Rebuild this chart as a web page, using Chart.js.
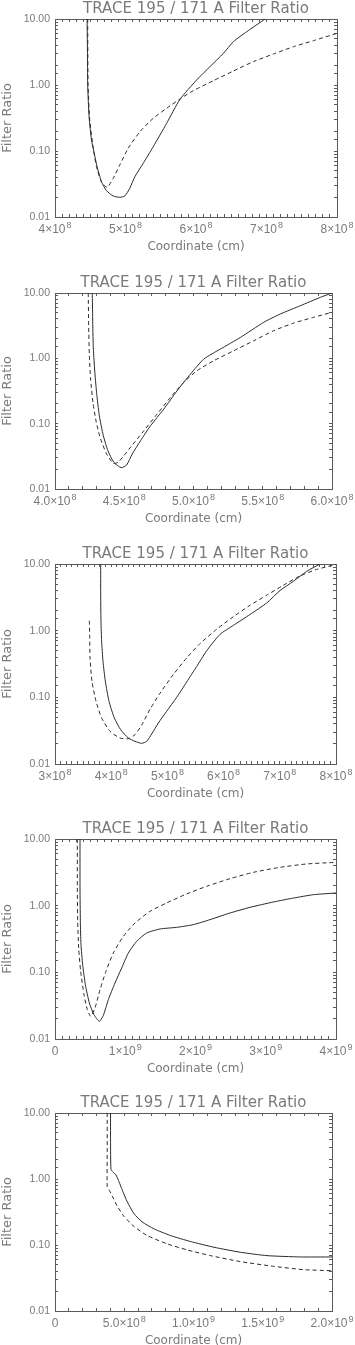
<!DOCTYPE html>
<html>
<head>
<meta charset="utf-8">
<script src="https://cdn.jsdelivr.net/npm/chart.js@4.4.1/dist/chart.umd.min.js"></script>
<style>
  body { margin: 0; background: #fff; width: 355px; height: 1345px; position: relative; overflow: hidden; }
  canvas { position: absolute; left: 0; }
</style>
</head>
<body>
<canvas id="c1"></canvas>
<canvas id="c2"></canvas>
<canvas id="c3"></canvas>
<canvas id="c4"></canvas>
<canvas id="c5"></canvas>
<script>
// coordinates in cm, ratio 195/171 ; solid and dashed model curves per panel
const p1SolidX = [4.455e8, 4.46e8, 4.464e8, 4.483e8, 4.517e8, 4.55e8, 4.597e8, 4.659e8, 4.73e8, 4.825e8, 4.919e8, 4.99e8, 5.06e8, 5.133e8, 5.251e8, 5.393e8, 5.583e8, 5.773e8, 6.009e8, 6.199e8, 6.389e8, 6.531e8, 6.72e8, 6.981e8];
const p1SolidY = [10, 3.39, 1.0, 0.331, 0.147, 0.1, 0.058, 0.0343, 0.0251, 0.0208, 0.0199, 0.0208, 0.0272, 0.0408, 0.065, 0.116, 0.262, 0.607, 1.19, 1.9, 3.02, 4.54, 6.43, 10];
const p1DashX = [4.464e8, 4.469e8, 4.493e8, 4.54e8, 4.588e8, 4.659e8, 4.739e8, 4.825e8, 4.919e8, 5.038e8, 5.204e8, 5.393e8, 5.583e8, 5.773e8, 5.962e8, 6.246e8, 6.531e8, 6.815e8, 7.1e8, 7.384e8, 7.668e8, 8.0e8];
const p1DashY = [10, 1.0, 0.295, 0.116, 0.058, 0.034, 0.0281, 0.0385, 0.0614, 0.11, 0.196, 0.313, 0.443, 0.614, 0.82, 1.16, 1.63, 2.26, 2.95, 3.81, 4.7, 6.07];

const p2SolidX = [4.269e8, 4.272e8, 4.276e8, 4.286e8, 4.3e8, 4.32e8, 4.349e8, 4.382e8, 4.425e8, 4.478e8, 4.517e8, 4.558e8, 4.618e8, 4.69e8, 4.786e8, 4.882e8, 4.978e8, 5.075e8, 5.195e8, 5.339e8, 5.507e8, 5.627e8, 5.772e8, 5.916e8, 6.0e8];
const p2SolidY = [10, 4.0, 1.56, 0.687, 0.302, 0.132, 0.0655, 0.0386, 0.0256, 0.0212, 0.0233, 0.0344, 0.055, 0.093, 0.168, 0.32, 0.575, 0.977, 1.39, 2.09, 3.56, 4.77, 6.4, 8.58, 10];
const p2DashX = [4.24e8, 4.243e8, 4.248e8, 4.257e8, 4.274e8, 4.298e8, 4.329e8, 4.373e8, 4.421e8, 4.454e8, 4.498e8, 4.558e8, 4.642e8, 4.738e8, 4.834e8, 4.93e8, 5.026e8, 5.147e8, 5.291e8, 5.435e8, 5.579e8, 5.724e8, 5.868e8, 6.0e8];
const p2DashY = [10, 3.16, 1.1, 0.483, 0.212, 0.105, 0.0582, 0.0343, 0.0247, 0.0256, 0.0324, 0.0471, 0.0781, 0.141, 0.253, 0.43, 0.648, 0.921, 1.31, 1.86, 2.65, 3.47, 4.25, 5.06];

const p3SolidX = [3.813e8, 3.813e8, 3.818e8, 3.83e8, 3.854e8, 3.896e8, 3.961e8, 4.056e8, 4.168e8, 4.305e8, 4.423e8, 4.542e8, 4.631e8, 4.72e8, 4.839e8, 4.987e8, 5.165e8, 5.343e8, 5.521e8, 5.699e8, 5.936e8, 6.173e8, 6.47e8, 6.766e8, 7.004e8, 7.241e8, 7.478e8, 7.715e8];
const p3SolidY = [10, 3.47, 1.38, 0.692, 0.347, 0.174, 0.0871, 0.049, 0.0327, 0.0245, 0.0219, 0.0204, 0.0219, 0.0282, 0.0412, 0.0617, 0.1, 0.17, 0.29, 0.5, 0.88, 1.2, 1.75, 2.6, 4.0, 5.5, 7.76, 10];
const p3DashX = [3.611e8, 3.617e8, 3.623e8, 3.658e8, 3.73e8, 3.83e8, 3.979e8, 4.157e8, 4.305e8, 4.423e8, 4.542e8, 4.69e8, 4.868e8, 5.106e8, 5.343e8, 5.58e8, 5.877e8, 6.173e8, 6.47e8, 6.766e8, 7.063e8, 7.359e8, 7.656e8, 8.0e8];
const p3DashY = [1.41, 0.871, 0.389, 0.174, 0.0871, 0.049, 0.0309, 0.0245, 0.024, 0.0275, 0.0384, 0.066, 0.115, 0.22, 0.39, 0.64, 1.05, 1.62, 2.4, 3.4, 4.8, 6.6, 8.3, 9.8];

const p4SolidX = [0.356e9, 0.356e9, 0.361e9, 0.37e9, 0.394e9, 0.432e9, 0.489e9, 0.555e9, 0.631e9, 0.688e9, 0.759e9, 0.854e9, 0.949e9, 1.044e9, 1.163e9, 1.305e9, 1.495e9, 1.732e9, 1.969e9, 2.206e9, 2.491e9, 2.776e9, 3.108e9, 3.393e9, 3.677e9, 4.0e9];
const p4SolidY = [10, 1.84, 0.582, 0.26, 0.13, 0.0653, 0.0347, 0.0232, 0.0184, 0.0226, 0.0389, 0.0692, 0.116, 0.195, 0.292, 0.389, 0.447, 0.473, 0.519, 0.617, 0.776, 0.944, 1.135, 1.3, 1.46, 1.55];
const p4DashX = [0.318e9, 0.318e9, 0.323e9, 0.337e9, 0.365e9, 0.413e9, 0.46e9, 0.508e9, 0.569e9, 0.641e9, 0.726e9, 0.83e9, 0.973e9, 1.139e9, 1.352e9, 1.59e9, 1.874e9, 2.159e9, 2.491e9, 2.823e9, 3.203e9, 3.582e9, 4.0e9];
const p4DashY = [10, 1.84, 0.582, 0.232, 0.104, 0.0462, 0.0275, 0.0219, 0.0292, 0.055, 0.104, 0.195, 0.347, 0.55, 0.822, 1.1, 1.5, 1.95, 2.54, 3.16, 3.76, 4.22, 4.47];

const p5SolidX = [0.401e9, 0.401e9, 0.404e9, 0.416e9, 0.44e9, 0.462e9, 0.486e9, 0.522e9, 0.57e9, 0.63e9, 0.714e9, 0.834e9, 0.978e9, 1.147e9, 1.339e9, 1.531e9, 1.772e9, 2.0e9];
const p5SolidY = [10, 3.92, 1.4, 1.29, 1.15, 0.908, 0.677, 0.45, 0.299, 0.223, 0.176, 0.139, 0.113, 0.0925, 0.0776, 0.069, 0.0659, 0.0659];
const p5DashX = [0.377e9, 0.377e9, 0.377e9, 0.392e9, 0.416e9, 0.45e9, 0.498e9, 0.57e9, 0.666e9, 0.81e9, 0.954e9, 1.123e9, 1.339e9, 1.579e9, 1.796e9, 2.0e9];
const p5DashY = [10, 2.76, 0.762, 0.677, 0.536, 0.386, 0.272, 0.191, 0.139, 0.104, 0.0843, 0.069, 0.056, 0.0475, 0.0423, 0.0408];

const yTickVals = [0.01, 0.1, 1, 10];
const yTickLabels = ['0.01', '0.10', '1.00', '10.00'];

// tick labels: mantissa part and exponent part (drawn raised)
const p1TickVals = [4e8, 5e8, 6e8, 7e8, 8e8];
const p1TickBase = ['4×10', '5×10', '6×10', '7×10', '8×10'];
const p1TickExp = ['8', '8', '8', '8', '8'];
const p2TickVals = [4.0e8, 4.5e8, 5.0e8, 5.5e8, 6.0e8];
const p2TickBase = ['4.0×10', '4.5×10', '5.0×10', '5.5×10', '6.0×10'];
const p2TickExp = ['8', '8', '8', '8', '8'];
const p3TickVals = [3e8, 4e8, 5e8, 6e8, 7e8, 8e8];
const p3TickBase = ['3×10', '4×10', '5×10', '6×10', '7×10', '8×10'];
const p3TickExp = ['8', '8', '8', '8', '8', '8'];
const p4TickVals = [0, 1e9, 2e9, 3e9, 4e9];
const p4TickBase = ['0', '1×10', '2×10', '3×10', '4×10'];
const p4TickExp = ['', '9', '9', '9', '9'];
const p5TickVals = [0, 5e8, 1.0e9, 1.5e9, 2.0e9];
const p5TickBase = ['0', '5.0×10', '1.0×10', '1.5×10', '2.0×10'];
const p5TickExp = ['', '8', '9', '9', '9'];

const TITLE = 'TRACE 195 / 171 A Filter Ratio';
const LINE = '#2a2a2a';
const AXIS = '#5a5a5a';
const TEXT = '#7a7a7a';
const TITLE_H = 21;
const XAXIS_H = 37;

const panels = [
    { id: 'c1', boxTop: 19, plotH: 198, boxRight: 337, xMin: 4e8, xMax: 8e8, step: 1e7,
      sx: p1SolidX, sy: p1SolidY, dx: p1DashX, dy: p1DashY, tv: p1TickVals, tb: p1TickBase, te: p1TickExp },
    { id: 'c2', boxTop: 293, plotH: 196, boxRight: 332, xMin: 4e8, xMax: 6e8, step: 1e7,
      sx: p2SolidX, sy: p2SolidY, dx: p2DashX, dy: p2DashY, tv: p2TickVals, tb: p2TickBase, te: p2TickExp },
    { id: 'c3', boxTop: 564, plotH: 200, boxRight: 336, xMin: 3e8, xMax: 8e8, step: 1e7,
      sx: p3SolidX, sy: p3SolidY, dx: p3DashX, dy: p3DashY, tv: p3TickVals, tb: p3TickBase, te: p3TickExp },
    { id: 'c4', boxTop: 839, plotH: 200, boxRight: 336, xMin: 0, xMax: 4e9, step: 1e8,
      sx: p4SolidX, sy: p4SolidY, dx: p4DashX, dy: p4DashY, tv: p4TickVals, tb: p4TickBase, te: p4TickExp },
    { id: 'c5', boxTop: 1113, plotH: 198, boxRight: 332, xMin: 0, xMax: 2e9, step: 1e8,
      sx: p5SolidX, sy: p5SolidY, dx: p5DashX, dy: p5DashY, tv: p5TickVals, tb: p5TickBase, te: p5TickExp }
];

function pts(xs, ys) {
    return xs.map((x, i) => ({ x: x, y: ys[i] }));
}

function yLabel(v) {
    const i = yTickVals.findIndex(t => Math.abs(Math.log10(t) - Math.log10(v)) < 1e-6);
    return i < 0 ? '' : yTickLabels[i];
}

// x tick labels like 4x10^8 with a raised exponent, placed by the x scale
const powerLabels = {
    id: 'powerLabels',
    afterDraw(chart, args, opts) {
        const ctx = chart.ctx;
        const sc = chart.scales.x;
        const y0 = chart.chartArea.bottom;
        ctx.save();
        ctx.fillStyle = TEXT;
        ctx.textBaseline = 'alphabetic';
        ctx.textAlign = 'left';
        opts.vals.forEach((v, i) => {
            const px = sc.getPixelForValue(v);
            ctx.font = '12px "Liberation Sans", sans-serif';
            const wb = ctx.measureText(opts.base[i]).width;
            ctx.font = '9px "Liberation Sans", sans-serif';
            const we = opts.exp[i] ? ctx.measureText(opts.exp[i]).width + 1 : 0;
            const x0 = px - (wb + we) / 2;
            ctx.font = '12px "Liberation Sans", sans-serif';
            ctx.fillText(opts.base[i], x0, y0 + 16);
            if (opts.exp[i]) {
                ctx.font = '9px "Liberation Sans", sans-serif';
                ctx.fillText(opts.exp[i], x0 + wb + 1, y0 + 11);
            }
        });
        ctx.restore();
    }
};

Chart.defaults.font.family = '"DejaVu Sans", sans-serif';
Chart.defaults.color = TEXT;

panels.forEach(p => {
    const cv = document.getElementById(p.id);
    const H = TITLE_H + p.plotH + XAXIS_H;
    cv.width = 355;
    cv.height = H;
    cv.style.top = (p.boxTop - TITLE_H) + 'px';

    const edgeGrid = { drawOnChartArea: false, tickLength: -3, color: AXIS, lineWidth: 1 };

    new Chart(cv, {
        type: 'line',
        data: {
            datasets: [
                { data: pts(p.sx, p.sy), borderColor: LINE, borderWidth: 1, pointRadius: 0, tension: 0.2, fill: false },
                { data: pts(p.dx, p.dy), borderColor: LINE, borderWidth: 1, borderDash: [4, 3], pointRadius: 0, tension: 0.2, fill: false }
            ]
        },
        plugins: [powerLabels],
        options: {
            responsive: false,
            animation: false,
            events: [],
            layout: { padding: { left: 0, right: 355 - p.boxRight, top: 0, bottom: 0 } },
            plugins: {
                legend: { display: false },
                tooltip: { enabled: false },
                powerLabels: { vals: p.tv, base: p.tb, exp: p.te },
                title: {
                    display: true,
                    fullSize: false,
                    text: TITLE,
                    color: TEXT,
                    font: { size: 15, weight: 'normal', lineHeight: 1.2 },
                    padding: { top: 2, bottom: 1 }
                }
            },
            scales: {
                x: {
                    type: 'linear',
                    position: 'bottom',
                    min: p.xMin,
                    max: p.xMax,
                    afterFit: s => { s.height = XAXIS_H; s.paddingLeft = 0; s.paddingRight = 0; },
                    border: { color: AXIS },
                    grid: edgeGrid,
                    ticks: { display: false, stepSize: p.step, autoSkip: false, maxTicksLimit: 1000 },
                    title: { display: true, text: 'Coordinate (cm)', color: TEXT, font: { size: 12 }, padding: 0 }
                },
                x2: {
                    type: 'linear',
                    position: 'top',
                    min: p.xMin,
                    max: p.xMax,
                    afterFit: s => { s.height = 0; s.paddingLeft = 0; s.paddingRight = 0; },
                    border: { color: AXIS },
                    grid: edgeGrid,
                    ticks: { display: false, stepSize: p.step, maxTicksLimit: 1000, autoSkip: false }
                },
                y: {
                    type: 'logarithmic',
                    position: 'left',
                    min: 0.01,
                    max: 10,
                    afterFit: s => { s.width = 55; s.paddingTop = 0; s.paddingBottom = 0; },
                    border: { color: AXIS },
                    grid: edgeGrid,
                    ticks: {
                        autoSkip: false,
                        padding: 8,
                        color: TEXT,
                        font: { family: '"Liberation Sans", sans-serif', size: 10.5 },
                        callback: v => yLabel(v)
                    },
                    title: { display: true, text: 'Filter Ratio', color: TEXT, font: { size: 13 }, padding: 0 }
                },
                y2: {
                    type: 'logarithmic',
                    position: 'right',
                    min: 0.01,
                    max: 10,
                    afterFit: s => { s.width = 0; s.paddingTop = 0; s.paddingBottom = 0; },
                    border: { color: AXIS },
                    grid: edgeGrid,
                    ticks: { display: false, autoSkip: false }
                }
            }
        }
    });
});
</script>
</body>
</html>
